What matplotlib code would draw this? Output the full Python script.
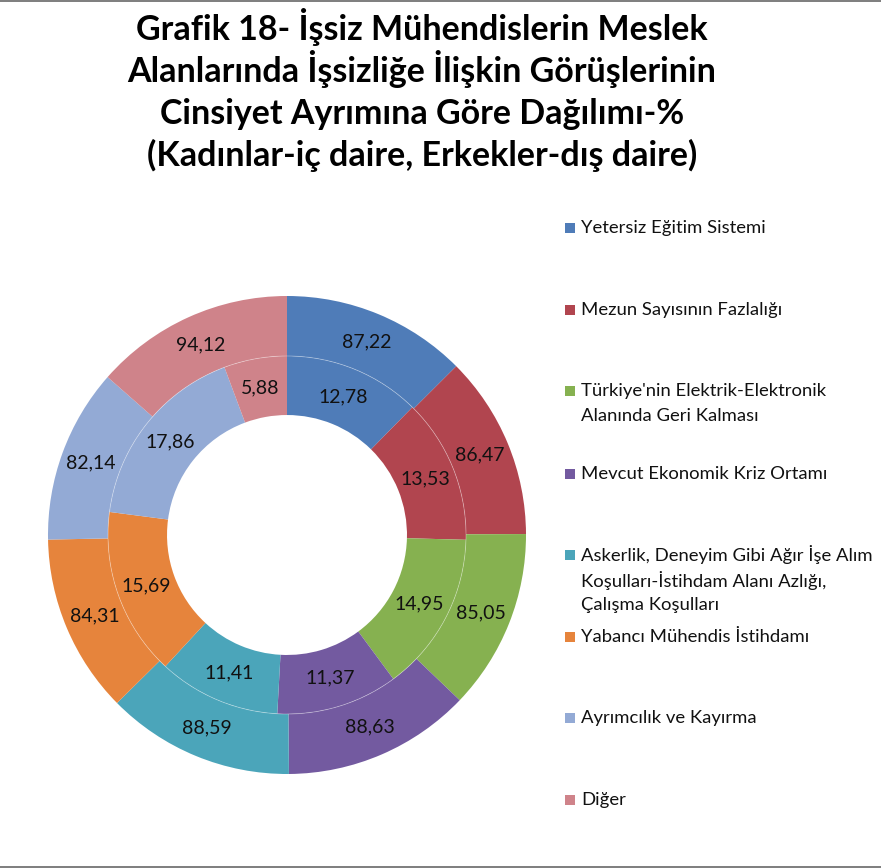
import numpy as np
import matplotlib.pyplot as plt
from matplotlib.patches import Circle, Rectangle

# data
categories = [
    "Yetersiz Eğitim Sistemi",
    "Mezun Sayısının Fazlalığı",
    "Türkiye'nin Elektrik-Elektronik\nAlanında Geri Kalması",
    "Mevcut Ekonomik Kriz Ortamı",
    "Askerlik, Deneyim Gibi Ağır İşe Alım\nKoşulları-İstihdam Alanı Azlığı,\nÇalışma Koşulları",
    "Yabancı Mühendis İstihdamı",
    "Ayrımcılık ve Kayırma",
    "Diğer",
]
kadin = [12.78, 13.53, 14.95, 11.37, 11.41, 15.69, 17.86, 5.88]   # inner ring
erkek = [87.22, 86.47, 85.05, 88.63, 88.59, 84.31, 82.14, 94.12]  # outer ring

colors = ["#4f7cb8", "#b1454f", "#86b150", "#735aa0",
          "#4ba5ba", "#e6843c", "#93aad5", "#cf838a"]

title_lines = [
    "Grafik 18- İşsiz Mühendislerin Meslek",
    "Alanlarında İşsizliğe İlişkin Görüşlerinin",
    "Cinsiyet Ayrımına Göre Dağılımı-%",
    "(Kadınlar-iç daire, Erkekler-dış daire)",
]

W, H = 881, 868
fig = plt.figure(figsize=(W / 100, H / 100), dpi=100)
fig.patch.set_facecolor("white")
plt.rcParams['font.family'] = ['Lato', 'DejaVu Sans']

# pie axes: center (287, 535) px, radius 239 px
cx, cy, R = 287, 535, 239
ax = fig.add_axes([(cx - R) / W, (H - cy - R) / H, 2 * R / W, 2 * R / H])
ax.axis("off")

r_mid, r_hole = 0.749, 0.502

def fmt(v):
    return f"{v:.2f}".replace(".", ",")

outer, _ = ax.pie(erkek, radius=1.0, colors=colors, startangle=90,
                  counterclock=False,
                  wedgeprops=dict(width=1 - r_mid, linewidth=0))
inner, _ = ax.pie(kadin, radius=r_mid, colors=colors, startangle=90,
                  counterclock=False,
                  wedgeprops=dict(width=r_mid - r_hole, linewidth=0))
ax.set_xlim(-1, 1)
ax.set_ylim(-1, 1)
ax.set_aspect("equal")

# faint line between the two rings
ax.add_patch(Circle((0, 0), r_mid, fill=False, edgecolor="white",
                    linewidth=0.6, alpha=0.35))

for wedges, vals, rr in [(outer, erkek, (1 + r_mid) / 2),
                         (inner, kadin, (r_mid + r_hole) / 2)]:
    for w, v in zip(wedges, vals):
        ang = np.deg2rad((w.theta1 + w.theta2) / 2)
        ax.text(rr * np.cos(ang), rr * np.sin(ang), fmt(v),
                ha="center", va="center", fontsize=14, color="#111111")

# title
title_base = [40, 82, 124, 166]
for line, yb in zip(title_lines, title_base):
    fig.text(422 / W, 1 - yb / H, line, ha="center", va="baseline",
             fontsize=24.5, fontweight="bold", color="black")

# legend (marker aligned with first line of each entry)
legend_y = [228, 310, 391, 474, 555, 637, 718, 800]
for lab, col, yy in zip(categories, colors, legend_y):
    fig.patches.append(Rectangle((565 / W, 1 - (yy + 5) / H), 10 / W, 10 / H,
                                 transform=fig.transFigure, facecolor=col,
                                 edgecolor="none"))
    for k, part in enumerate(lab.split("\n")):
        fig.text(581 / W, 1 - (yy + 25 * k) / H, part, ha="left",
                 va="center", fontsize=13.3, color="#111111")

# chart area border, top and bottom
fig.patches.append(Rectangle((0, 1 - 2 / H), 1, 2 / H, transform=fig.transFigure,
                             facecolor="#808080", edgecolor="none"))
fig.patches.append(Rectangle((0, 0), 1, 2 / H, transform=fig.transFigure,
                             facecolor="#808080", edgecolor="none"))

fig.savefig("out.png", dpi=100)
